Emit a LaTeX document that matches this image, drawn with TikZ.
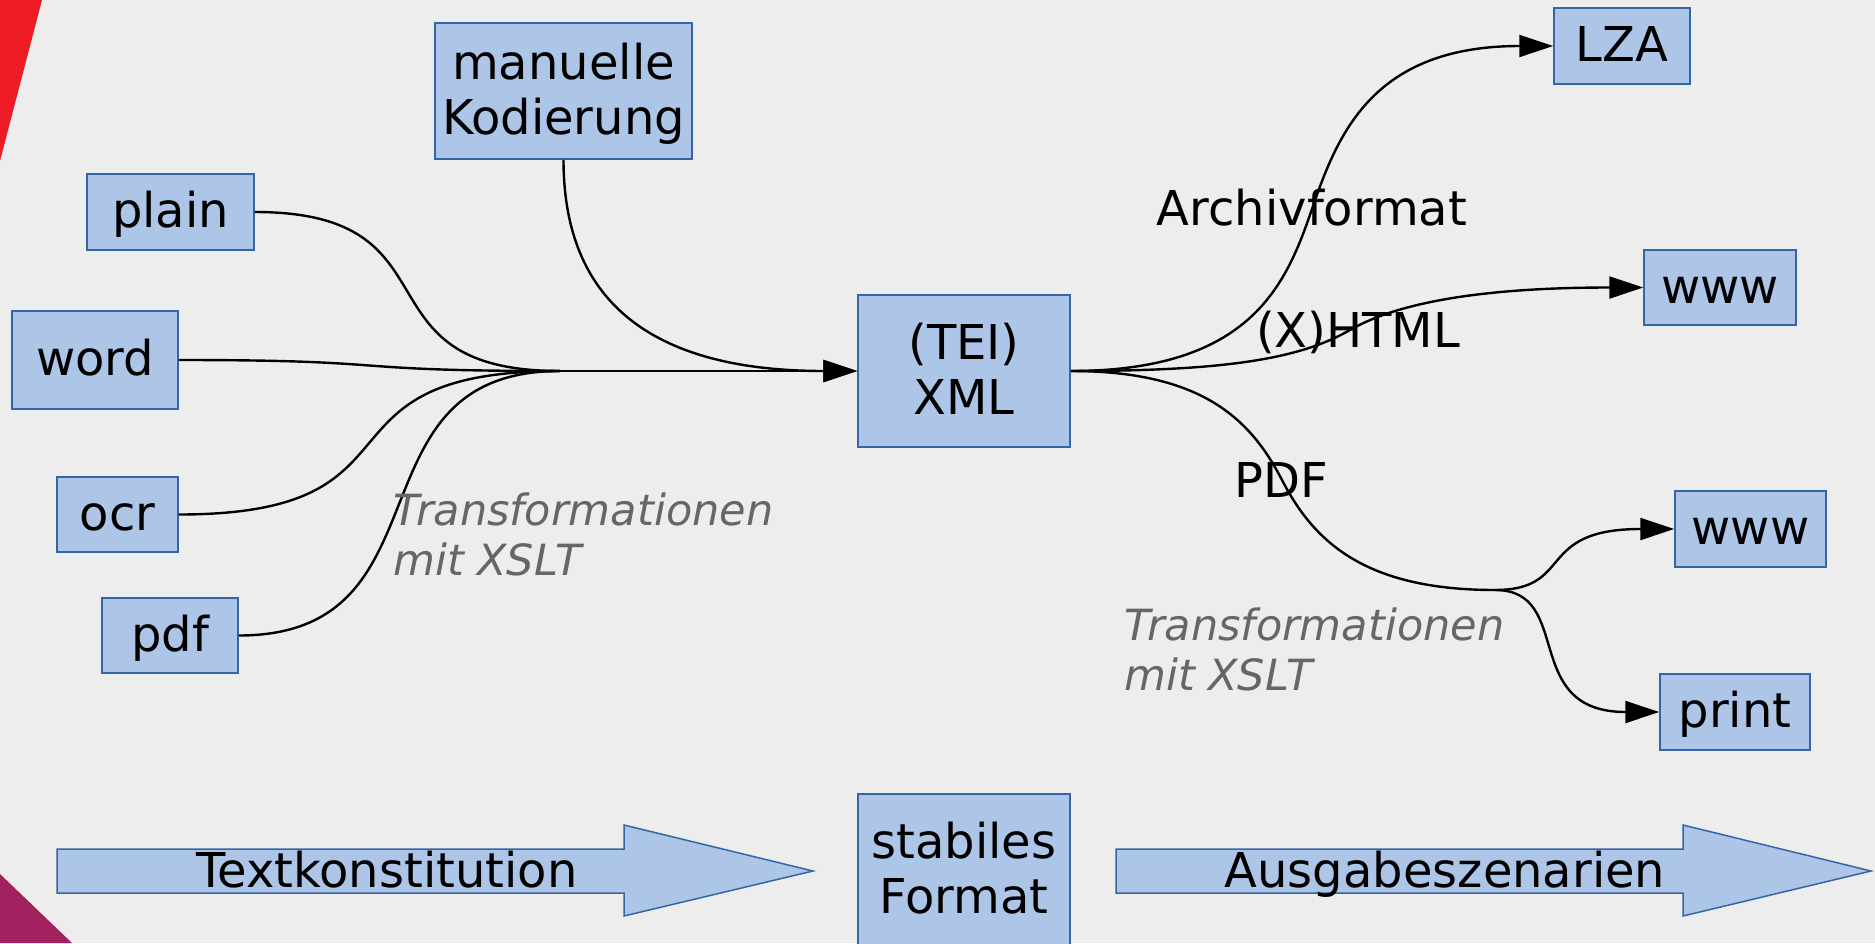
\documentclass[tikz,border=0pt]{standalone}
\usepackage{fontspec}
\setmainfont{DejaVu Sans}
\usetikzlibrary{arrows.meta}
\definecolor{bg}{RGB}{237,237,237}
\definecolor{boxfill}{RGB}{173,197,231}
\definecolor{boxline}{RGB}{52,101,164}
\definecolor{redc}{RGB}{237,28,36}
\definecolor{purplec}{RGB}{162,34,96}
\definecolor{greytext}{RGB}{102,102,102}
\newcommand\sline{\rule[-0.24em]{0pt}{1.14em}}
\begin{document}
\begin{tikzpicture}[x=1pt,y=-1pt,
  box/.style={draw=boxline, line width=1.5pt, fill=boxfill, inner sep=0pt, align=center, font=\fontsize{48}{55}\selectfont},
  conn/.style={line width=2.4pt, draw=black},
  arr/.style={conn, -{Triangle[length=34pt,width=22pt]}},
  lbl/.style={font=\fontsize{48}{55}\selectfont, inner sep=0pt, anchor=base},
  note/.style={font=\fontsize{43}{50}\selectfont\itshape, text=greytext, align=left, inner sep=0pt, anchor=base west},
  blockarrow/.style={draw=boxline, line width=1.5pt, fill=boxfill}]
\useasboundingbox (0,0) rectangle (1875,943);
\clip (0,0) rectangle (1875,943);
\fill[bg] (0,0) rectangle (1875,943);
\fill[redc] (0,0) -- (42,0) -- (0,161) -- cycle;
\fill[purplec] (0,874) -- (72,943) -- (0,943) -- cycle;

% boxes
\node[box, minimum width=167pt, minimum height=76pt] (plain) at (170.5,212) {\sline plain};
\node[box, minimum width=166pt, minimum height=98pt] (word) at (95,360) {\sline word};
\node[box, minimum width=121pt, minimum height=75pt] (ocr) at (117.5,514.5) {\sline ocr};
\node[box, minimum width=136pt, minimum height=75pt] (pdf) at (170,635.5) {\sline pdf};
\node[box, minimum width=257pt, minimum height=136pt] (man) at (563.5,91) {\sline manuelle\\\sline Kodierung};
\node[box, minimum width=212pt, minimum height=152pt] (tei) at (964,371) {\sline (TEI)\\\sline XML};
\node[box, minimum width=136pt, minimum height=76pt] (lza) at (1622,46) {\sline LZA};
\node[box, minimum width=152pt, minimum height=75pt] (www1) at (1720,287.5) {\sline www};
\node[box, minimum width=151pt, minimum height=76pt] (www2) at (1750.5,529) {\sline www};
\node[box, minimum width=150pt, minimum height=76pt] (print) at (1735,712) {\sline print};
\node[box, minimum width=212pt, minimum height=152pt] (stab) at (964,870) {\sline stabiles\\\sline Format};

% left connectors
\coordinate (M) at (560,371);
\draw[conn] (plain.east) .. controls +(210,0) and +(-210,0) .. (M);
\draw[conn] (word.east) .. controls +(230,0) and +(-230,0) .. (M);
\draw[conn] (ocr.east) .. controls +(260,0) and +(-260,0) .. (M);
\draw[conn] (pdf.east) .. controls +(216,0) and +(-216,0) .. (M);
\draw[arr] (M) -- (tei.west);
\draw[arr] (man.south) .. controls +(0,130) and +(-220,0) .. (tei.west);

% right connectors
\coordinate (a1) at (1312,209);
\coordinate (h1) at (1350,330);
\coordinate (p1) at (1282,480);
\coordinate (R) at (1495,590);
\draw[arr] (tei.east) .. controls +(180,0) and +(-26,76) .. (a1) .. controls +(26,-76) and +(-180,0) .. (lza.west);
\draw[arr] (tei.east) .. controls +(150,0) and +(-52,30) .. (h1) .. controls +(52,-30) and +(-150,0) .. (www1.west);
\draw[conn] (tei.east) .. controls +(130,0) and +(-32,-62) .. (p1) .. controls +(32,62) and +(-130,0) .. (R);
\draw[arr] (R) .. controls +(80,0) and +(-140,0) .. (www2.west);
\draw[arr] (R) .. controls +(80,0) and +(-140,0) .. (print.west);

% labels
\node[lbl] (archiv) at (1312,225) {Archivformat};
\node[lbl] (xhtml) at (1358,347) {(X)HTML};
\node[lbl] (pdflbl) at (1281,497) {PDF};
\node[note] (t1) at (393,575) {Transformationen\\mit XSLT};
\node[note] (t2) at (1124,690) {Transformationen\\mit XSLT};

% block arrows
\draw[blockarrow] (57,849) -- (624,849) -- (624,825) -- (813,871) -- (624,916) -- (624,893) -- (57,893) -- cycle;
\node[lbl] (tk) at (387,887) {Textkonstitution};
\draw[blockarrow] (1116,849) -- (1683,849) -- (1683,825) -- (1871,871) -- (1683,916) -- (1683,893) -- (1116,893) -- cycle;
\node[lbl] (ag) at (1445,887) {Ausgabeszenarien};
\end{tikzpicture}
\end{document}
